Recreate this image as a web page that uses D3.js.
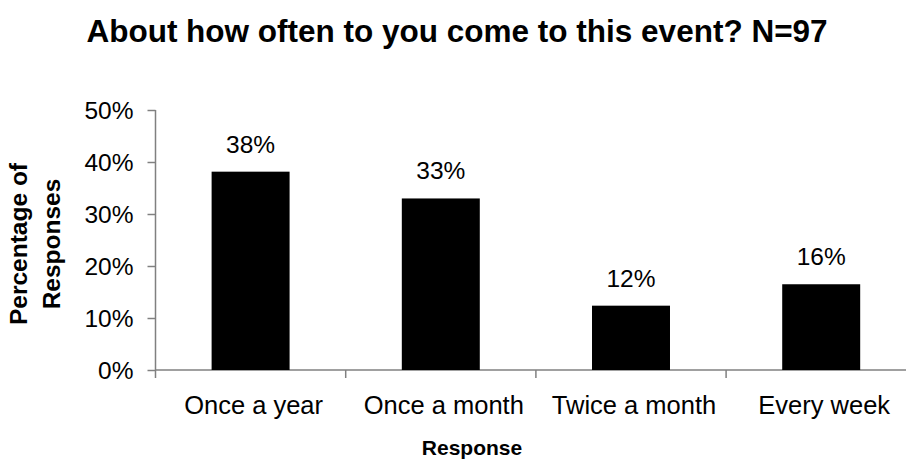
<!DOCTYPE html>
<html>
<head>
<meta charset="utf-8">
<script src="https://cdn.jsdelivr.net/npm/d3@7"></script>
<style>
  html, body { margin: 0; padding: 0; background: #fff; overflow: hidden; }
  svg { display: block; font-family: "Liberation Sans", Arial, sans-serif; }
</style>
</head>
<body>
<svg id="chart" width="906" height="466"></svg>
<script>
// Survey responses (N = 97): share of respondents per visit frequency
const categories = ["Once a year", "Once a month", "Twice a month", "Every week"];
const shares = [0.3814, 0.3299, 0.1237, 0.1649];
const yTicks = [0, 0.1, 0.2, 0.3, 0.4, 0.5];

const svg = d3.select("#chart");
const axisColor = "#808080";
const pct = d3.format(".0%");

const x = d3.scaleBand()
  .domain(categories)
  .range([155.5, 916.3])
  .paddingInner(0.59)
  .paddingOuter(0.295);

const y = d3.scaleLinear().domain([0, 0.5]).range([370, 110]);

// Title
svg.append("text")
  .attr("x", 457).attr("y", 42)
  .attr("text-anchor", "middle")
  .attr("font-size", 31.5)
  .attr("font-weight", "bold")
  .text("About how often to you come to this event? N=97");

// Y axis
const yAxis = svg.append("g").attr("transform", "translate(155.5,0)")
  .call(d3.axisLeft(y).tickValues(yTicks).tickFormat(pct).tickSize(8).tickPadding(14));
yAxis.select(".domain").attr("d", `M0,${y(0.5)}V378`);
yAxis.selectAll("line, path").attr("stroke", axisColor).attr("stroke-width", 1.5);
yAxis.selectAll("text")
  .attr("font-family", "Liberation Sans, Arial, sans-serif")
  .attr("font-size", 24.5).attr("fill", "#000").attr("dy", "0.36em");

// X axis baseline
svg.append("line")
  .attr("x1", 155.5).attr("x2", 916.3)
  .attr("y1", y(0)).attr("y2", y(0))
  .attr("stroke", axisColor).attr("stroke-width", 1.5);

// Category boundary ticks
const boundaries = categories.slice(1).map(c => x(c) - x.step() * x.paddingInner() / 2);
svg.selectAll(".sep").data(boundaries).join("line")
  .attr("class", "sep")
  .attr("x1", d => d).attr("x2", d => d)
  .attr("y1", y(0)).attr("y2", y(0) + 8)
  .attr("stroke", axisColor).attr("stroke-width", 1.5);

// Category labels
svg.selectAll(".cat").data(categories).join("text")
  .attr("class", "cat")
  .attr("x", d => x(d) + x.bandwidth() / 2 + 3)
  .attr("y", 414)
  .attr("text-anchor", "middle")
  .attr("font-size", 25.5)
  .text(d => d);

// Bars
svg.selectAll(".bar").data(shares).join("rect")
  .attr("class", "bar")
  .attr("x", (d, i) => x(categories[i]))
  .attr("width", x.bandwidth())
  .attr("y", d => y(d))
  .attr("height", d => y(0) - y(d))
  .attr("fill", "#000");

// Value labels
svg.selectAll(".val").data(shares).join("text")
  .attr("class", "val")
  .attr("x", (d, i) => x(categories[i]) + x.bandwidth() / 2)
  .attr("y", d => y(d) - 19)
  .attr("text-anchor", "middle")
  .attr("font-size", 24.5)
  .text(d => pct(d));

// Axis titles
svg.append("text")
  .attr("x", 472).attr("y", 455)
  .attr("text-anchor", "middle")
  .attr("font-size", 21)
  .attr("font-weight", "bold")
  .text("Response");

const yTitle = svg.append("text")
  .attr("transform", "translate(0,244) rotate(-90)")
  .attr("text-anchor", "middle")
  .attr("font-size", 24.5)
  .attr("font-weight", "bold");
yTitle.append("tspan").attr("x", 0).attr("y", 27).text("Percentage of");
yTitle.append("tspan").attr("x", 0).attr("y", 60).text("Responses");
</script>
</body>
</html>
